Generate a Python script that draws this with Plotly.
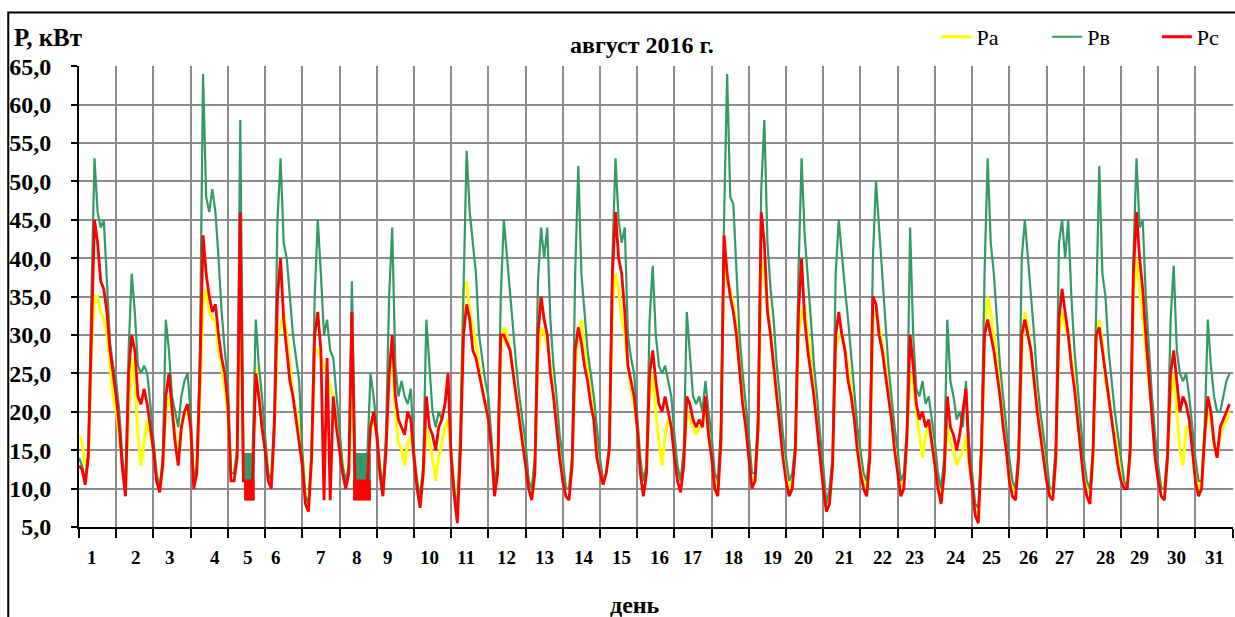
import numpy as np
import plotly.graph_objects as go

# ---------------- data (kW), one value every 2 hours, 12 values per day ----------------
STEP_H = 2
# Pa (phase A)
pa = [
    17, 16, 13, 14, 28, 35, 35, 33, 32, 30, 26, 22,      # 1
    20, 17, 13, 10, 20, 27, 24, 17, 13, 16, 19, 17,      # 2
    15, 12, 10, 13, 20, 22, 20, 17, 14, 18, 20, 20,      # 3
    18, 11, 13, 22, 34, 36, 33, 32, 32, 28, 26, 23,      # 4
    20, 12, 12, 15, 38, 14, 14, 14, 14, 26, 22, 18,      # 5
    16, 12, 11, 18, 30, 31, 33, 30, 26, 22, 20, 18,      # 6
    15, 9, 8, 14, 28, 28, 27, 26, 25, 23, 22, 18,        # 7
    17, 13, 11, 12, 25, 14, 14, 14, 14, 14, 18, 19,      # 8
    17, 13, 10, 15, 25, 27, 20, 16, 15, 13, 16, 17,      # 9
    14, 11, 9, 12, 18, 16, 14, 11, 14, 16, 18, 19,       # 10
    14, 10, 8, 17, 36, 37, 33, 31, 29, 26, 23, 21,       # 11
    19, 16, 11, 12, 28, 31, 30, 28, 25, 22, 19, 16,      # 12
    14, 11, 10, 13, 27, 31, 30, 29, 26, 22, 19, 15,      # 13
    12, 10, 10, 13, 26, 30, 32, 28, 26, 24, 19, 15,      # 14
    13, 11, 12, 15, 34, 38, 36, 32, 30, 26, 23, 21,      # 15
    18, 13, 11, 13, 22, 25, 20, 16, 13, 17, 19, 18,      # 16
    15, 12, 11, 14, 20, 19, 18, 17, 18, 18, 21, 17,      # 17
    15, 11, 10, 17, 40, 37, 36, 34, 31, 27, 22, 18,      # 18
    15, 11, 11, 18, 40, 38, 34, 30, 26, 22, 18, 15,      # 19
    12, 10, 11, 15, 30, 33, 34, 30, 27, 23, 19, 15,      # 20
    11, 8, 9, 13, 28, 30, 30, 28, 26, 23, 20, 16,        # 21
    13, 11, 10, 14, 32, 33, 31, 29, 26, 23, 20, 16,      # 22
    13, 10, 11, 17, 25, 24, 20, 17, 14, 17, 18, 16,      # 23
    14, 11, 9, 12, 18, 16, 15, 13, 14, 15, 17, 13,       # 24
    11, 7, 6.5, 14, 30, 35, 33, 30, 27, 23, 19, 16,      # 25
    12, 10, 9.5, 14, 28, 33, 31, 27, 24, 21, 18, 15,     # 26
    12, 10, 9.5, 14, 30, 33, 31, 30, 27, 24, 20, 16,     # 27
    12, 10, 9.5, 14, 29, 32, 29, 24, 22, 19, 17, 15,     # 28
    12, 11, 10.5, 15, 35, 40, 36, 32, 28, 24, 20, 15,    # 29
    12, 10, 10, 14, 22, 25, 20, 15, 13, 18, 18, 16,      # 30
    12, 10, 11, 17, 20, 19, 16, 14, 17, 18, 19, 20,      # 31
]
# Pв (phase B)
pb = [
    14, 13, 11, 15, 35, 53, 46, 44, 45, 36, 29, 26,
    24, 20, 14, 10, 28, 38, 33, 26, 25, 26, 25, 21,
    16, 12, 10, 14, 32, 28, 22, 20, 18, 22, 24, 25,
    20, 11, 13, 28, 64, 48, 46, 49, 46, 40, 33, 28,
    24, 12, 12, 15, 58, 14.5, 14.5, 14.5, 14.5, 32, 26, 22,
    17, 12, 11, 20, 45, 53, 42, 40, 35, 30, 27, 24,
    15, 9, 8, 15, 35, 45, 38, 30, 32, 28, 27, 22,
    17, 13, 11, 13, 37, 14.5, 14.5, 14.5, 14.5, 14.5, 25, 22,
    18, 13, 10, 17, 35, 44, 26, 22, 24, 22, 21, 23,
    15, 11, 9, 13, 32, 26, 20, 18, 20, 19, 21, 24,
    15, 10, 7, 18, 38, 54, 46, 42, 38, 30, 27, 24,
    22, 17, 11, 13, 35, 45, 40, 36, 30, 26, 22, 19,
    16, 11, 10, 14, 37, 44, 40, 44, 32, 26, 22, 17,
    14, 10, 10, 14, 38, 52, 38, 33, 28, 25, 22, 18,
    14, 11, 12, 16, 40, 53, 45, 42, 44, 30, 27, 25,
    20, 14, 11, 13, 32, 39, 30, 26, 25, 26, 24, 22,
    17, 13, 11, 15, 33, 28, 22, 21, 22, 20, 24, 20,
    17, 12, 11, 18, 45, 64, 48, 47, 38, 30, 25, 21,
    17, 12, 12, 20, 49, 58, 42, 36, 32, 26, 22, 17,
    14, 11, 12, 16, 38, 53, 43, 38, 32, 26, 22, 17,
    13, 8, 10, 14, 38, 45, 40, 36, 32, 27, 23, 18,
    15, 12, 11, 15, 40, 50, 44, 38, 32, 26, 22, 18,
    15, 11, 12, 18, 44, 30, 23, 22, 24, 21, 22, 19,
    16, 12, 10, 14, 32, 24, 22, 19, 20, 18, 24, 16,
    12, 8, 7.5, 16, 38, 53, 42, 38, 32, 26, 22, 18,
    14, 11, 10, 15, 40, 45, 40, 36, 30, 24, 20, 17,
    14, 10, 10, 16, 42, 45, 40, 45, 35, 28, 23, 18,
    14, 11, 10, 15, 35, 52, 38, 35, 28, 24, 20, 17,
    14, 11, 10, 16, 40, 53, 44, 45, 35, 28, 22, 17,
    13, 10, 10, 15, 32, 39, 28, 25, 24, 25, 22, 18,
    14, 11, 11, 18, 32, 26, 22, 20, 20, 22, 24, 25,
]
# Pс (phase C)
pc = [
    13, 12.5, 10.5, 14, 30, 45, 42, 37, 36, 33, 28, 25,
    22, 18, 12.5, 9, 25, 30, 28, 22, 21, 23, 21, 18,
    15, 11, 9.5, 13, 22, 25, 20, 16, 13, 18, 20, 21,
    18, 10, 12, 25, 43, 38, 35, 33, 34, 30, 27, 25,
    21, 11, 11, 14, 46, 11, 11, 11, 11, 25, 22, 18,
    15, 11, 10, 18, 35, 40, 32, 28, 24, 22, 19, 16,
    13, 8, 7, 14, 30, 33, 28, 8.5, 27, 8.5, 22, 18,
    15, 12, 10, 12, 33, 11, 11, 11, 11, 11, 18, 20,
    17, 12, 9, 15, 25, 30, 22, 19, 18, 17, 20, 19,
    14, 10, 7.5, 12, 22, 18, 17, 15, 18, 19, 21, 25,
    14, 9, 5.5, 15, 30, 34, 32, 28, 27, 25, 23, 21,
    19, 15, 9, 12, 30, 30, 29, 28, 25, 22, 19, 16,
    13, 10, 8.5, 12, 30, 35, 32, 30, 25, 22, 18, 14,
    11, 9, 8.5, 13, 28, 31, 29, 26, 24, 21, 19, 14,
    12, 10.5, 12, 15, 38, 46, 40, 38, 33, 26, 24, 22,
    18, 12, 9, 12, 25, 28, 24, 21, 20, 22, 20, 18,
    14, 11, 9.5, 13, 22, 21, 19, 18, 19, 18, 22, 17,
    14, 10, 9, 16, 43, 38, 35, 33, 30, 25, 21, 18,
    14, 10, 11, 18, 46, 42, 33, 30, 26, 22, 18, 14,
    11, 9, 10, 15, 33, 40, 32, 28, 25, 22, 18, 14,
    10, 7, 8, 13, 30, 33, 30, 28, 24, 22, 19, 15,
    12, 10, 9, 14, 35, 34, 30, 28, 25, 22, 19, 15,
    12, 9, 10, 17, 30, 26, 21, 19, 20, 18, 19, 16,
    13, 10, 8, 12, 22, 18, 17, 15, 17, 20, 23, 14,
    10, 6.5, 5.5, 15, 30, 32, 30, 28, 25, 22, 18, 15,
    11, 9, 8.5, 14, 30, 32, 30, 28, 24, 20, 17, 14,
    11, 9, 8.5, 14, 32, 36, 33, 30, 26, 23, 19, 15,
    11, 9, 8, 15, 30, 31, 28, 25, 22, 19, 16, 13,
    11, 10, 10, 15, 38, 46, 40, 36, 30, 25, 20, 14,
    11, 9, 8.5, 14, 25, 28, 24, 20, 22, 21, 19, 15,
    11, 9, 10, 17, 22, 20, 16, 14, 18, 19, 20, 21,
]

# periods with dense oscillating readings (hours from start of month) and their value bands
band_hours = [[106.8, 113.0], [177.1, 187.9]]
pb_band = [11.0, 14.5]
pc_band = [8.5, 11.0]

series_names = ["Ра", "Рв", "Рс"]
series_colors = ["#FFFF00", "#339966", "#FF0000"]

day_labels = [str(d) for d in range(1, 32)]
day_label_pos = [0.35, 1.54, 2.45, 3.66, 4.55, 5.30, 6.51, 7.48, 8.31, 9.41,
                 10.39, 11.50, 12.51, 13.57, 14.59, 15.59, 16.51, 17.58, 18.63, 19.46,
                 20.58, 21.60, 22.46, 23.56, 24.52, 25.51, 26.49, 27.59, 28.51, 29.49, 30.50]
y_ticks = [5, 10, 15, 20, 25, 30, 35, 40, 45, 50, 55, 60, 65]
y_ticktext = [f"{v:.1f}".replace(".", ",") for v in y_ticks]

# ---------------- figure ----------------
SERIF = "Liberation Serif, Times New Roman, serif"
t_days = np.arange(len(pa)) * STEP_H / 24.0

fig = go.Figure()


def band_trace(hours, band, color):
    xs, ys = [], []
    for h0, h1 in hours:
        d0, d1 = h0 / 24.0, h1 / 24.0
        xs += [d0, d1, d1, d0, d0, None]
        ys += [band[0], band[0], band[1], band[1], band[0], None]
    return go.Scatter(x=xs, y=ys, mode="lines", fill="toself", fillcolor=color,
                      line=dict(color=color, width=1), showlegend=False,
                      hoverinfo="skip")


fig.add_trace(go.Scatter(x=t_days, y=pa, mode="lines", name=series_names[0],
                         legend="legend",
                         line=dict(color=series_colors[0], width=3.0)))
fig.add_trace(go.Scatter(x=t_days, y=pb, mode="lines", name=series_names[1],
                         legend="legend2",
                         line=dict(color=series_colors[1], width=2.2)))
fig.add_trace(band_trace(band_hours, pb_band, series_colors[1]))
fig.add_trace(go.Scatter(x=t_days, y=pc, mode="lines", name=series_names[2],
                         legend="legend3",
                         line=dict(color=series_colors[2], width=2.8)))
fig.add_trace(band_trace(band_hours, pc_band, series_colors[2]))

annotations = []
for lab, pos in zip(day_labels, day_label_pos):
    annotations.append(dict(x=pos, y=-0.066, xref="x", yref="paper", text=lab,
                            showarrow=False, xanchor="center", yanchor="middle",
                            font=dict(family=SERIF, size=19, color="black", weight="bold")))
annotations.append(dict(x=0.482, y=-0.17, xref="paper", yref="paper", text="день",
                        showarrow=False, xanchor="center", yanchor="middle",
                        font=dict(family=SERIF, size=24, color="black", weight="bold")))
annotations.append(dict(x=0.488, y=1.045, xref="paper", yref="paper", text="август 2016 г.",
                        showarrow=False, xanchor="center", yanchor="middle",
                        font=dict(family=SERIF, size=24, color="black", weight="bold")))
annotations.append(dict(x=-0.0578, y=1.0623, xref="paper", yref="paper", text="Р, кВт",
                        showarrow=False, xanchor="left", yanchor="middle",
                        font=dict(family=SERIF, size=25, color="black", weight="bold")))


def legend_box(xpos):
    return dict(orientation="h", x=xpos, y=1.063, xanchor="left", yanchor="middle",
                font=dict(family=SERIF, size=22, color="black"),
                bgcolor="rgba(0,0,0,0)", borderwidth=0)


fig.update_layout(
    width=1235, height=617,
    margin=dict(l=79, r=2, t=66, b=90),
    paper_bgcolor="white", plot_bgcolor="white",
    showlegend=True,
    legend=legend_box(0.743),
    legend2=legend_box(0.839),
    legend3=legend_box(0.934),
    annotations=annotations,
    shapes=[dict(type="rect", xref="paper", yref="paper", x0=-0.0613, y0=-0.5,
                 x1=1.02, y1=1.1159, line=dict(color="black", width=2),
                 fillcolor="rgba(0,0,0,0)", layer="above")],
    xaxis=dict(range=[0, 31.01], tickmode="linear", tick0=0, dtick=1,
               showticklabels=False, ticks="outside", ticklen=9, tickwidth=2,
               tickcolor="black", showline=True, linecolor="black", linewidth=2,
               showgrid=True, gridcolor="#8c8c8c", gridwidth=1.5, zeroline=False),
    yaxis=dict(range=[5, 65.03], tickmode="array", tickvals=y_ticks, ticktext=y_ticktext,
               ticks="outside", ticklen=6, tickwidth=2, tickcolor="black",
               ticklabelstandoff=15,
               tickfont=dict(family=SERIF, size=24, color="black", weight="bold"),
               showline=True, linecolor="black", linewidth=2,
               showgrid=True, gridcolor="#8c8c8c", gridwidth=1.5, zeroline=False),
)

fig.write_html("out.html", config={"displayModeBar": False},
               post_script="document.body.style.margin='0';")
